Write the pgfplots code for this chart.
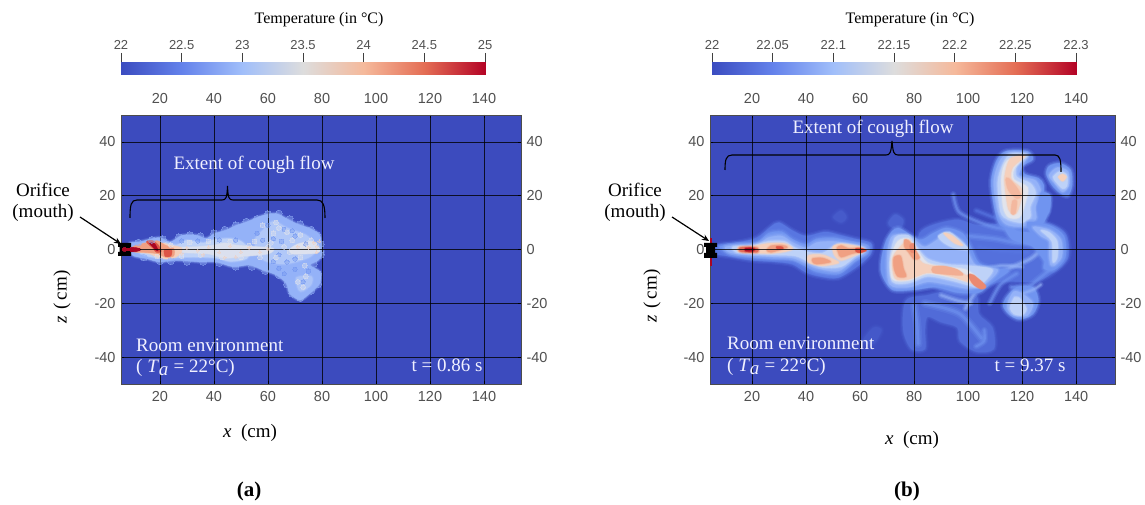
\documentclass[border=0pt]{standalone}
\usepackage{pgfplots}
\pgfplotsset{compat=1.18}
\usetikzlibrary{arrows.meta}
\usepackage{fontspec}
\setmainfont{Liberation Serif}
\setsansfont{Liberation Sans}
\definecolor{bgb}{RGB}{60,75,190}
\definecolor{c0}{RGB}{88,118,225}
\definecolor{c1}{RGB}{112,148,240}
\definecolor{c2}{RGB}{148,178,248}
\definecolor{c3}{RGB}{190,210,248}
\definecolor{c4}{RGB}{226,228,236}
\definecolor{c5}{RGB}{245,208,188}
\definecolor{c6}{RGB}{240,160,130}
\definecolor{c7}{RGB}{222,85,70}
\definecolor{c8}{RGB}{170,5,35}
\definecolor{tk}{RGB}{80,80,80}
\pgfplotsset{
 colormap={cw}{rgb255=(59,76,192) rgb255=(100,130,235) rgb255=(160,190,250) rgb255=(221,221,221) rgb255=(245,185,155) rgb255=(228,110,85) rgb255=(180,4,38)},
 pbase/.style={scale only axis,anchor=south west,axis on top,no markers,
  ymin=-50,ymax=50,enlargelimits=false,
  xtick={20,40,...,140},ytick={-40,-20,...,40},
  tick style={black,line width=.6pt},
  tick pos=both,major tick length=3pt,
  axis line style={black!70,line width=.5pt},
  /pgf/number format/assume math mode=true,
  tick label style={font=\fontsize{14.5}{15}\selectfont\sffamily,text=tk},
 },
 panel/.style={pbase,
  xticklabel shift=4pt,yticklabel shift=2pt,
  xmajorgrids,ymajorgrids,
  major grid style={black,line width=.75pt,opacity=.8},
  axis background/.style={fill=bgb},
 },
 panelup/.style={pbase,xticklabel pos=upper,yticklabel pos=right,xticklabel shift=8pt,yticklabel shift=2pt},
 cbar/.style={scale only axis,anchor=south west,axis on top=false,
  ymin=0,ymax=1,ytick=\empty,enlargelimits=false,
  xticklabel pos=upper,tick align=outside,major tick length=9pt,
  xtick pos=upper,
  tick style={black!75,line width=.6pt},
  axis line style={draw=none},
  /pgf/number format/assume math mode=true,
  tick label style={font=\fontsize{13}{14}\selectfont\sffamily,text=tk},
 },
}
\newcommand\blob[3][3]{%
 \addplot[smooth cycle,fill=#2,draw=#2,line width=#1*2pt,opacity=.18,line join=round] coordinates {#3};
 \addplot[smooth cycle,fill=#2,draw=#2,line width=#1*1.2pt,opacity=.3,line join=round] coordinates {#3};
 \addplot[smooth cycle,fill=#2,draw=#2,line width=#1*.5pt,opacity=.45,line join=round] coordinates {#3};
 \addplot[smooth cycle,fill=#2,draw=none] coordinates {#3};
}
\newcommand\streak[3][3]{%
 \addplot[smooth,draw=#2,line width=#1*2.2pt,opacity=.2,line cap=round] coordinates {#3};
 \addplot[smooth,draw=#2,line width=#1*1.4pt,opacity=.3,line cap=round] coordinates {#3};
 \addplot[smooth,draw=#2,line width=#1*.7pt,opacity=.5,line cap=round] coordinates {#3};
}
\newcommand\speck[3]{%
 \addplot[only marks,mark=*,mark size=#2pt,color=#1,opacity=.38,mark options={draw=#1,fill=#1,line width=0pt}] coordinates {#3};
}
\begin{document}
\begin{tikzpicture}
\path[use as bounding box] (0,0) rectangle (1145pt,505pt);
% ---------- colour bars
\begin{axis}[cbar,at={(121pt,430pt)},width=364pt,height=13pt,xmin=22,xmax=25,
 xtick={22,22.5,23,23.5,24,24.5,25},xticklabels={22,22.5,23,23.5,24,24.5,25}]
\addplot[surf,shader=interp,mesh/rows=2,point meta=x] coordinates {
(22,0)(22.5,0)(23,0)(23.5,0)(24,0)(24.5,0)(25,0)
(22,1)(22.5,1)(23,1)(23.5,1)(24,1)(24.5,1)(25,1)};
\end{axis}
\begin{axis}[cbar,at={(712pt,430pt)},width=364pt,height=13pt,xmin=22,xmax=22.3,
 xtick={22,22.05,22.1,22.15,22.2,22.25,22.3},xticklabels={22,22.05,22.1,22.15,22.2,22.25,22.3}]
\addplot[surf,shader=interp,mesh/rows=2,point meta=x] coordinates {
(22,0)(22.05,0)(22.1,0)(22.15,0)(22.2,0)(22.25,0)(22.3,0)
(22,1)(22.05,1)(22.1,1)(22.15,1)(22.2,1)(22.25,1)(22.3,1)};
\end{axis}
% ---------- panel a
\begin{axis}[panel,at={(121pt,121pt)},width=400pt,height=269pt,xmin=5.56,xmax=153.7]
\speck{c2}{3.4}{(12,2.6)(17,3.6)(21,3.8)(27,4.6)(31,5.4)(35,5)(40,6)(44,7.4)(48,9)(52,10.4)(56,11.4)(60,13.2)(64,13.4)(68,11.4)(72,9.4)(76,7.4)(78,5.4)(79.5,2)(79.5,-2)(77,-5.4)(78.6,-9)(78.6,-13)(76,-15.4)(72,-18)(69,-16.4)(67,-13)(64,-9.6)(59,-8)(54,-6.4)(48,-6.4)(42,-5)(36,-4.6)(30,-4.6)(24,-4.4)(20,-4.4)(14,-3)}
\blob[2]{c2}{(8.6,2.2)(12.3,2.8)(16,3.7)(19.8,4.4)(23.5,2.8)(25.3,3.5)(28.4,5.3)(33.4,5.3)(37.1,4.1)(40.2,5.9)(44.5,7.2)(48.3,9)(52,10.2)(58.2,12.7)(63.1,13.3)(66.8,11.5)(70.6,9.6)(75.5,7.8)(79.2,5.3)(79.9,.4)(80.5,-.9)(78.6,-4)(75.5,-5.8)(79.2,-8.3)(79.2,-12.6)(75.5,-16.3)(71.8,-18.8)(68,-16.3)(66.8,-12.6)(63.1,-9.5)(58.2,-7.7)(53.2,-5.8)(47,-6.4)(40.8,-4.6)(34.6,-4.6)(26,-4)(19.8,-4.6)(14.8,-3.3)(9.8,-2.1)}
\blob[1.6]{c3}{(12,1.6)(20,3)(26,1.6)(30,3.4)(36,2.4)(40,3.6)(46,4)(50,3)(53,0)(52,-3.4)(46,-4.4)(40,-3)(30,-2.8)(20,-3.2)(13,-1.6)}
\blob[1.6]{c3!70!c2}{(55,3)(58,7)(62,10.5)(67,8)(74,5.4)(77,2.4)(78,0)(75,-3)(66,-5.4)(58,-3.6)}
\blob[1.6]{c3!60!c2}{(70.5,-10.5)(76,-10)(76,-13)(73,-15.4)(71.4,-15)}
\speck{c1}{2.2}{(60,9)(66,7.5)(56,6)(70,5)(62,-4.5)(67,-4.6)(70,-3.5)(73,-12)(75,-8)(48,3.5)(65,3)(58,3.4)(74,2)(64,-2)(62,4)(69,7)(42,3.6)(34,3.2)(28,3.2)(66,-9)(70,-7.4)(64,-7)}
\speck{c4}{2.4}{(58,9)(63,10)(67,6.4)(72,5.4)(76,3.4)(62,6)(55,3)(46,3)(38,3)(31,2.6)(24,1.6)(57,-3)(63,-3)(68,-1)(72,-3)(75,1)(50,-3)(43,-3)(35,-2)(28,-2.5)(19,-2.6)(73,-14)(74,-10)(71,-12)(66,1)(60,1)(64,8)(69,3.4)(61,2.5)(53,1.5)(73.6,-6)}
\blob[1]{c4!80!c3}{(26,.7)(34,1)(40,1.6)(44,2.4)(48,1.6)(56,1)(62,.4)(60,-1.6)(50,-2.6)(44,-3.2)(38,-1.6)(30,-1.2)(26,-.7)}
\blob[.9]{c4!85!c3}{(68,0)(71,2)(76,3)(78.5,2)(79,-1)(74,-1.6)(69,-1.6)}
\speck{c5}{1.5}{(30,.5)(34,-.4)(38,.8)(42,-1)(46,1.2)(50,-1)(53,.6)(57,-1)(60,0)(44,-3)(48,-2.8)(36,-2)(28,-1.5)(77,2.5)(78,1)(78,-1)(75,.6)(79,3)(71,1)}
\blob[1]{c5}{(11,.8)(16,1.6)(20,2.6)(24,1.5)(28,.5)(27,-2)(24,-3.4)(20,-3.2)(16,-1.5)(11,-.8)}
\blob[.8]{c6}{(10,1)(15,2.5)(19,3.2)(22,1.5)(25,.4)(25,-2.4)(22,-2.8)(19,-1.5)(14,-1)(10,-.8)}
\blob[.5]{c7}{(15,2.8)(17,3.4)(19.5,1.5)(20.4,-.8)(18.6,-1)(17.5,.4)}
\blob[.5]{c7}{(21.6,-.2)(24.3,-.2)(24,-2.4)(22,-2.6)}
\blob[.4]{c8}{(6,.7)(11,.7)(13,0)(11,-.8)(6,-.7)}
\blob[.3]{c8}{(16,2.5)(18,2.2)(19.3,-.3)(18.5,-.2)}
\end{axis}
\begin{axis}[panelup,at={(121pt,121pt)},width=400pt,height=269pt,xmin=5.56,xmax=153.7]
\end{axis}
% ---------- panel b
\begin{axis}[panel,at={(710pt,121pt)},width=405pt,height=269pt,xmin=4.44,xmax=154.4]
% faint blobs
\blob[3]{c0!55!bgb}{(70.5,10)(73,13)(76,11)(75,8)(72,8)}
\blob[3]{c0!35!bgb}{(50,12)(53,14.5)(55,12)(53,10)}
\blob[3]{c0!30!bgb}{(61,-34)(65,-29)(68,-30)(65,-35)}
% jet halo
\blob[3]{c0}{(5,1.3)(12,2.2)(17,3)(22,4.5)(27,8.5)(30,10)(35,7)(40,5)(47,6.5)(52,5.5)(58,4)(64,2.4)(64,-1.5)(60,-5.5)(52,-10.5)(45,-10)(40,-8.5)(35,-5.5)(28,-4.5)(20,-4)(12,-2.6)(5,-1.3)}
\blob[3]{c1}{(8,1)(14,2)(22,2.8)(26,6)(31,6.6)(35,3.8)(40,2)(44,4)(50,4.4)(56,3.2)(63,1.6)(63,-1.4)(58,-4.6)(52,-9.2)(44,-8.4)(40,-6.4)(35,-4)(28,-3.6)(20,-3)(12,-1.8)}
\blob[3]{c2}{(10,.8)(14,1.5)(22,2)(26,4.4)(31,5)(35,2.6)(40,.6)(44,2.6)(50,3)(56,2.2)(62,1)(62,-1.2)(58,-3.6)(52,-8)(44,-7)(40,-5.2)(35,-3.2)(28,-2.8)(20,-2.2)(12,-1.2)}
\blob[2]{c3}{(13,1)(20,1.4)(26,3)(32,3)(36,.6)(41,-1)(46,-1.4)(50,1)(53,2.2)(60,1)(61.6,-.5)(58,-2.8)(53,-6.4)(46,-6.6)(41,-4.6)(36,-2.4)(28,-2)(20,-1.6)(14,-1)}
\blob[1.6]{c5}{(15,.9)(20,1.1)(26,2.2)(32,2.2)(35,.2)(31,-1)(26,-1.4)(20,-1.2)(15,-.8)}
\blob[1.6]{c5}{(41,-2.2)(46,-2)(50,-3.6)(52,-5)(46,-6)(41,-4.8)}
\blob[1.6]{c5}{(50,1)(53,2)(60,.9)(61.6,-.5)(58,-2.2)(53,-4)(50.5,-2)}
\blob[1.6]{c6}{(27,1.3)(31,1.6)(33,.8)(30,-.2)(27,-1)(25.5,-.3)}
\blob[1.6]{c6}{(42.5,-3.4)(46,-3.2)(49,-4.6)(44,-5.4)(42.5,-4.6)}
\blob[1.6]{c6}{(51.5,.6)(53,1.4)(56,.3)(60,.6)(61,-.6)(57,-1.5)(53,-2.8)(52,-1.2)}
\blob[2]{c7!70!c6}{(15.5,.6)(19,.9)(22,.4)(22,-.9)(18,-1)(15.5,-.6)}
\blob[1.4]{c8!85!c7}{(17.6,.4)(20,.5)(21,0)(20,-.6)(17.6,-.5)}
\blob[1]{c7}{(58.5,.4)(61,.3)(62.3,-.4)(60,-1.2)(58.5,-.7)}
\blob[1]{c7}{(29,1)(31,1)(31.5,.3)(29.5,.2)}
% pale wash under the right-hand mass
\blob[3]{c0!85!bgb}{(82,6)(95,11)(104,9)(116,10)(128,10)(136,6)(137,-3)(131,-9)(124,-12)(112,-12)(100,-16)(90,-15)(84,-10)}
% lower wisps
\blob[3]{c0!75!bgb}{(77,-19)(85,-17)(95,-15)(103,-17)(104,-24)(109,-29)(109.5,-37)(103,-38)(97,-34)(96,-29)(90,-27)(85,-25)(84,-30)(84,-37)(79,-37)(76,-30)}
\streak[4]{c1}{(80,-21)(81,-27)(81.5,-35)}
\streak[4]{c1}{(84,-20)(92,-22)(97,-24)(101,-28)(105,-33)}
\streak[3]{c2}{(90,-17)(96,-19)(101,-20)}
\streak[3]{c1}{(103,-36)(106,-34)(106,-30)}
% streaks upper and lower right
\streak[3]{c1}{(94.5,20.5)(96.6,14)(104.5,10)(111,8)(120,7)}
\streak[3]{c0}{(103,14.5)(112,11)(120,9)}
\streak[3.5]{c1}{(100,5)(110,4)(118,2.5)(126,3)}
\streak[3]{c0}{(104,1)(112,-.5)(122,-1)}
\streak[3]{c2}{(99,-22)(104.5,-13.4)(112,-8.4)(123,-3.5)(128,1)}
\streak[2.5]{c2}{(106,-7)(113,-6)(120,-6.5)}
\streak[3]{c1}{(108,-20)(112,-13)(118,-9)}
% central mass
\blob[3]{c1}{(68,-3)(70,4)(74,8)(82,3.6)(87,6)(92,8)(98,6)(101,1)(104,-5)(110,-7)(115,-8)(108,-13)(104,-16)(96,-16)(88,-14)(80,-15)(72,-15)(68,-9)}
\blob[2.5]{c2}{(70,-3)(72,5)(79,4.6)(84,1)(92,5.5)(98,3)(100,-1)(103,-6)(111,-7.6)(106,-13)(100,-14.5)(92,-13)(85,-12)(78,-14)(71,-13)}
\blob[2]{c3}{(71,-4)(73,4.4)(78,5.2)(81,1)(85,-3.5)(92,-5.5)(100,-6)(109,-7.5)(105,-13)(103,-14)(94,-11.6)(85,-10)(78,-12.5)(72,-12)}
\blob[1.6]{c3}{(89,5)(93,6.5)(98,2.5)(100,0)(95,.5)(91,2.5)}
\blob[1.4]{c5}{(91,6)(94,5.2)(98,1.6)(95,2.4)}
\blob[1.6]{c4}{(71.5,-3)(74,3)(78,4)(81,0)(85,-5)(92,-6.5)(99,-7.5)(104,-11)(104,-13)(94,-10.5)(85,-9)(78,-11.5)(72,-11)}
\blob[1.5]{c5}{(72,-3.5)(75,1)(78,3.6)(80,0)(83,-5)(90,-6.6)(96,-8)(103,-12)(103,-13)(94,-10)(85,-8.6)(78,-11)(73,-10.6)}
\blob[1.5]{c6}{(72.6,-3)(75,-2.5)(76,-7)(77,-10)(74,-10)(72.6,-7)}
\blob[1.4]{c6}{(76.5,3.6)(78,3.2)(80,.5)(82,-3)(80,-3.6)(78,-1)(76.5,1)}
\blob[1]{c6!70!c5}{(87,-6.5)(91,-6.2)(96,-7.5)(98,-9.5)(92,-9.2)(87,-8.5)}
\blob[1]{c6!70!c7}{(100,-9.5)(102,-9.5)(106.5,-13.5)(105,-14.7)(102,-13)}
\blob[.9]{c6!70!c7}{(78.5,1.6)(80,2.2)(80.5,-.8)(79,-1)}
% bridge between tower and right band
\blob[3]{c1}{(112,12)(118,7)(126,6)(132,3)(134,-2)(130,-6)(124,1)(116,4)}
% upper tower
\blob[3]{c1}{(110,14)(108.5,25)(110.5,33)(114,36.5)(122,36.5)(124,33.5)(120,31)(121,28)(126,26.5)(128,24)(128,19)(130,17)(129,12)(127,9)(122,8)(116,8)(112,9)}
\blob[2.5]{c2}{(111,14)(109.5,25)(111.5,32.5)(115,36)(122,35.5)(120,31)(119,27.4)(125,25.6)(127,21)(125,16)(125,11)(120,8.6)(114,9.4)}
\blob[2.2]{c3}{(112,14)(111,25)(113,32)(116,35.5)(122,35)(118,31)(118,27)(123,24.6)(125,21)(123,16)(123,12)(120,10)(115,11)}
\blob[1.6]{c4}{(113,16)(112.4,27)(114.5,33)(121,35)(117,30)(117,26)(122,23)(121,17)(119,12)(115,12)}
\blob[1.5]{c5}{(114,21)(113.6,27)(115.6,33.6)(121,34.8)(116.4,30.5)(116,26)(120,22)(118.5,15)(117,13)(115,15)}
\blob[1.3]{c6!50!c5}{(114,26)(115,26.4)(118,23)(119.5,20)(118,19)(115,22)}
\blob[1.2]{c6!50!c5}{(116,13.5)(117.4,13.5)(118,18)(116.5,18)}
% right cloud
\blob[3]{c1}{(129,28)(130,31)(134,32)(138,29.5)(138.5,24)(137,20)(134,21)(131,24)}
\blob[2]{c2}{(130,27.6)(133,30.4)(137,29)(137.4,24)(135,21.4)(132,24.6)}
\blob[1.8]{c3}{(131.5,27)(134,29)(136.6,27.6)(136.6,23.6)(135,22.6)(132.6,25)}
\blob[1.2]{c5}{(133.4,27)(135,28)(136.4,27)(135,25.4)}
\blob[2.5]{c1}{(127,21)(130.5,20)(130,14)(127.5,12)(126,15)}
% right band and vortex
\blob[3]{c1}{(122,10)(130,9)(135.5,5)(136,-3)(132,-7.5)(128,-7)(129,-2)(128,3)(124,5)}
\blob[2.2]{c2}{(124,8.4)(130,7.4)(134.4,3.6)(134.6,-3)(131,-6.4)(130,-2)(130,3)(127,5)}
\blob[1.8]{c3}{(127,7)(130,6.4)(133,3)(133,-3)(131.4,-4.6)(131,3)}
\streak[3.4]{c1}{(131,-7)(126,-11)(122,-14)(116,-14)}
\blob[3]{c1}{(114,-18)(118,-14)(124,-14)(126,-19)(124,-24)(119,-26)(115,-24)(113,-21)}
\blob[2.4]{c2}{(115,-19)(117,-15.6)(120,-16.4)(124,-20)(122,-24.5)(117,-24.6)(114.6,-22)}
\blob[1.8]{c3}{(116,-20)(117.4,-17.6)(119,-18)(121.6,-22)(120,-24.4)(117,-24)(115.6,-22)}
\streak[2.4]{c2}{(118,-17)(124,-15)(127,-13)}
\end{axis}
\begin{axis}[panelup,at={(710pt,121pt)},width=405pt,height=269pt,xmin=4.44,xmax=154.4]
\end{axis}
\begin{scope}[x=1pt,y=-1pt,yshift=505pt]
% orifice a
\fill[black] (118,243) rectangle (131,247) (118,252) rectangle (131,256) (119.5,243) rectangle (123,256);
\fill[black] (126,243) rectangle (129.5,256);
\fill[c8] (122,248.4) rectangle (140,250.6);
\fill[c8] (710,238) rectangle (711.5,266);
\fill[black] (704,243) rectangle (717,247) (704,253) rectangle (717,258) (706,243) rectangle (715,258);
% braces
\draw[black,line width=1.1pt] (130,218) .. controls (130,205) and (131,200) .. (137,200) -- (222,200) .. controls (226,200) and (227,198) .. (227.5,186) .. controls (228,198) and (229,200) .. (233,200) -- (317,200) .. controls (323,200) and (325,205) .. (325,218);
\draw[black,line width=1.1pt] (725,170) .. controls (725,160) and (726,155) .. (732,155) -- (886,155) .. controls (890,155) and (891,153) .. (892,141) .. controls (893,153) and (894,155) .. (898,155) -- (1055,155) .. controls (1060,155) and (1061,160) .. (1061,172);
% arrows
\draw[black,line width=1.2pt,-{Stealth[length=7pt,width=6pt]}] (80,217) -- (121,244);
\draw[black,line width=1.2pt,-{Stealth[length=7pt,width=6pt]}] (672,217) -- (709,241);
% texts
\tikzset{ser/.style={font=\fontsize{16}{18}\selectfont,inner sep=0pt,anchor=center},
 big/.style={ser,font=\fontsize{19}{21}\selectfont},wh/.style={big,text=white!94!blue}}
\node[ser] at (319,20) {Temperature (in °C)};
\node[ser] at (910,20) {Temperature (in °C)};
\node[wh] at (254,165) {Extent of cough flow};
\node[wh] at (873,129) {Extent of cough flow};
\node[wh,anchor=west] at (136,345) {Room environment};
\node[wh,anchor=west] at (136,368) {( \textit{T}$_{\textit{a}}$ = 22°C)};
\node[wh,anchor=west] at (727,343) {Room environment};
\node[wh,anchor=west] at (727,367) {( \textit{T}$_{\textit{a}}$ = 22°C)};
\node[wh] at (447,365) {t = 0.86 s};
\node[wh] at (1030,365) {t = 9.37 s};
\node[big] at (43,190) {Orifice};
\node[big] at (43,213) {(mouth)};
\node[big] at (635,190) {Orifice};
\node[big] at (635,213) {(mouth)};
\node[big] at (250,433) {\textit{x}\,\,\,(cm)};
\node[big] at (912,440) {\textit{x}\,\,\,(cm)};
\node[big,rotate=90] at (62,297) {\textit{z}\,\,(\,cm)};
\node[big,rotate=90] at (652,296) {\textit{z}\,\,(\,cm)};
\node[ser,font=\fontsize{21}{23}\selectfont\bfseries] at (249,491) {(a)};
\node[ser,font=\fontsize{21}{23}\selectfont\bfseries] at (907,491) {(b)};
\end{scope}
\end{tikzpicture}
\end{document}
